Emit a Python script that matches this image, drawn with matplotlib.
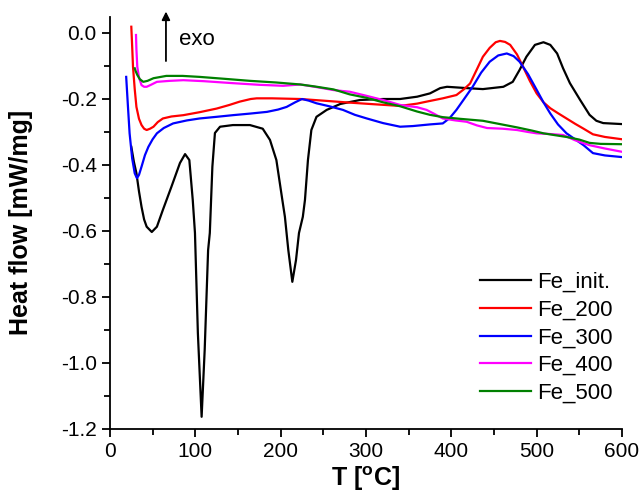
import numpy as np
import matplotlib
matplotlib.use('Agg')
import matplotlib.pyplot as plt
import matplotlib as mpl

# 字体和样式
mpl.rcParams['font.family'] = ['Liberation Sans', 'DejaVu Sans']
mpl.rcParams['axes.unicode_minus'] = False
mpl.rcParams['axes.linewidth'] = 1.3

# 数据
t_init = [25, 28, 31, 34, 37, 40, 43, 49, 55, 62, 72, 82, 88, 93, 97, 99.6, 103, 107.4, 111, 115, 117, 120, 123,
          129, 144, 164, 179, 187.5, 195, 202, 205, 209, 213.7, 218, 221.5, 226, 228.5, 232, 236, 242, 254, 270,
          293, 320, 340, 360, 375, 387, 395, 418, 437, 461, 472, 480, 488, 498, 508, 516, 524, 531, 539, 551,
          562, 570, 578, 600]
hf_init = [-0.345, -0.39, -0.425, -0.48, -0.527, -0.565, -0.587, -0.603, -0.587, -0.536, -0.466, -0.394, -0.367,
           -0.385, -0.506, -0.606, -0.909, -1.163, -0.96, -0.658, -0.606, -0.405, -0.303, -0.284, -0.279, -0.279,
           -0.29, -0.324, -0.385, -0.506, -0.557, -0.658, -0.754, -0.688, -0.606, -0.557, -0.506, -0.385, -0.294,
           -0.254, -0.233, -0.215, -0.203, -0.2, -0.2, -0.193, -0.183, -0.167, -0.163, -0.167, -0.17, -0.163,
           -0.148, -0.112, -0.072, -0.036, -0.028, -0.036, -0.062, -0.107, -0.152, -0.203, -0.248, -0.266,
           -0.273, -0.276]

t_200 = [25, 26, 27, 29, 31, 34, 37, 40, 43, 47, 51, 56, 62, 72, 86, 105, 125, 140, 152, 165, 172, 190, 223, 250,
         281, 310, 340, 360, 371, 390, 406, 415, 422, 430, 437, 445, 452, 457, 463, 469, 477, 484, 492, 500, 508,
         516, 525, 535, 545, 555, 566, 580, 600]
hf_200 = [0.019, -0.04, -0.103, -0.17, -0.224, -0.26, -0.279, -0.29, -0.294, -0.29, -0.284, -0.27, -0.259, -0.253,
          -0.249, -0.24, -0.229, -0.218, -0.208, -0.2, -0.198, -0.198, -0.2, -0.205, -0.211, -0.216, -0.221,
          -0.214, -0.208, -0.198, -0.188, -0.17, -0.153, -0.11, -0.072, -0.045, -0.028, -0.024, -0.027, -0.036,
          -0.065, -0.102, -0.145, -0.183, -0.21, -0.228, -0.243, -0.259, -0.275, -0.29, -0.307, -0.315, -0.322]

t_300 = [19, 21, 23, 26, 29, 31.6, 34, 37, 41, 45, 50, 55, 63, 74, 90, 105, 125, 144, 165, 184, 197, 207, 217, 225,
         233, 242, 257, 273, 287, 301, 320, 340, 355, 375, 390, 398, 406, 415, 425, 435, 445, 455, 465, 473, 480,
         490, 500, 508, 516, 525, 535, 545, 555, 566, 580, 600]
hf_300 = [-0.133, -0.22, -0.304, -0.38, -0.425, -0.44, -0.43, -0.405, -0.37, -0.345, -0.322, -0.304, -0.288,
          -0.274, -0.265, -0.259, -0.254, -0.249, -0.244, -0.239, -0.232, -0.224, -0.21, -0.2, -0.205, -0.213,
          -0.222, -0.233, -0.248, -0.259, -0.273, -0.284, -0.282, -0.277, -0.274, -0.258, -0.233, -0.2, -0.163,
          -0.12, -0.087, -0.068, -0.062, -0.07, -0.087, -0.125, -0.172, -0.21, -0.244, -0.277, -0.304, -0.322,
          -0.34, -0.364, -0.371, -0.376]

t_400 = [30.5, 31, 32, 34, 37, 40, 43, 48, 55, 70, 86, 110, 144, 175, 203, 223, 240, 262, 281, 300, 320, 340, 360,
         371, 380, 390, 405, 418, 430, 442, 460, 477, 490, 500, 515, 531, 545, 562, 580, 600]
hf_400 = [-0.006, -0.05, -0.102, -0.135, -0.158, -0.163, -0.163, -0.157, -0.148, -0.145, -0.143, -0.146, -0.152,
          -0.157, -0.16, -0.156, -0.163, -0.173, -0.178, -0.19, -0.203, -0.218, -0.225, -0.233, -0.245, -0.259,
          -0.265, -0.269, -0.28, -0.288, -0.29, -0.294, -0.3, -0.304, -0.306, -0.309, -0.325, -0.34, -0.35, -0.36]

t_500 = [29, 30, 32, 35, 39, 44, 51, 66, 85, 105, 135, 164, 195, 223, 240, 262, 281, 300, 320, 340, 360, 375, 390,
         410, 437, 455, 477, 495, 508, 520, 535, 550, 562, 575, 600]
hf_500 = [-0.107, -0.115, -0.127, -0.14, -0.148, -0.145, -0.137, -0.13, -0.13, -0.133, -0.139, -0.145, -0.15,
          -0.156, -0.162, -0.171, -0.186, -0.196, -0.21, -0.222, -0.238, -0.248, -0.255, -0.26, -0.266, -0.275,
          -0.286, -0.296, -0.304, -0.309, -0.315, -0.323, -0.333, -0.336, -0.337]

labels = ['Fe_init.', 'Fe_200', 'Fe_300', 'Fe_400', 'Fe_500']
colors = ['black', '#ff0000', '#0000ff', '#ff00ff', '#008000']
yticks = [-1.2, -1.0, -0.8, -0.6, -0.4, -0.2, 0.0]
ytick_labels = ['-1.2', '-1.0', '-0.8', '-0.6', '-0.4', '-0.2', '0.0']

# 创建图形
fig = plt.figure(figsize=(6.42, 5.0), dpi=100)
ax = fig.add_axes([0.1713, 0.142, 0.7975, 0.825])

series = [(t_init, hf_init), (t_200, hf_200), (t_300, hf_300), (t_400, hf_400), (t_500, hf_500)]
for (t, hf), lab, c in zip(series, labels, colors):
    ax.plot(t, hf, color=c, linewidth=1.6, label=lab)

# 坐标轴
ax.set_xlim(0, 600)
ax.set_ylim(-1.2, 0.05)
ax.set_xticks(np.arange(0, 601, 100))
ax.set_xticks(np.arange(0, 601, 50), minor=True)
ax.set_yticks(yticks)
ax.set_yticklabels(ytick_labels)
ax.set_yticks(np.arange(-12, 1) / 10, minor=True)
ax.tick_params(which='major', direction='out', length=6, width=1.3, labelsize=15)
ax.tick_params(which='minor', direction='out', length=4, width=1.3)
ax.spines['top'].set_visible(False)
ax.spines['right'].set_visible(False)

ax.set_xlabel('T [$\\mathregular{^{o}}$C]', fontsize=18, fontweight='bold', labelpad=2)
ax.set_ylabel('Heat flow [mW/mg]', fontsize=18, fontweight='bold', labelpad=20)

# exo 箭头
ax.annotate('', xy=(65.6, 0.065), xytext=(65.6, -0.085), annotation_clip=False,
            arrowprops=dict(arrowstyle='-|>', color='black', lw=1.3, mutation_scale=12, shrinkA=0, shrinkB=0))
ax.text(81, -0.021, 'exo', fontsize=16, va='center', ha='left')

# 图例
ax.legend(loc='lower right', bbox_to_anchor=(1.0, 0.04), frameon=False, fontsize=16,
          handlelength=2.3, handletextpad=0.3, labelspacing=0.3, borderaxespad=0.0)

plt.savefig('out.png', dpi=100)
